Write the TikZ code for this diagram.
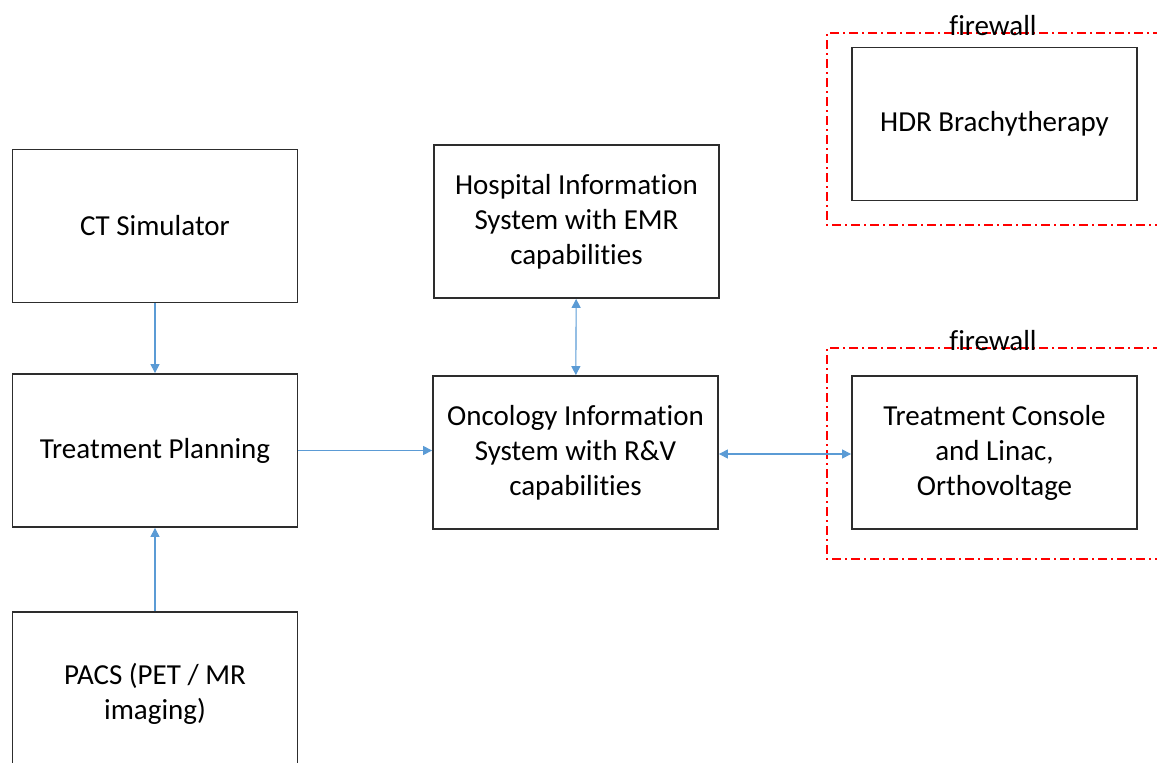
\documentclass[tikz,border=0pt]{standalone}
\usepackage{fontspec}
\setmainfont{Carlito}[Ligatures={NoCommon,NoContextual}]
\usepackage{tikz}
\usepackage{xcolor}
\usetikzlibrary{positioning,calc}
\usetikzlibrary{arrows.meta}
\definecolor{link}{RGB}{91, 155, 213}
\definecolor{fw}{RGB}{255, 0, 0}
\definecolor{edge}{RGB}{45, 45, 45}

\tikzset{
  sysbox/.style={draw=edge, line width=1.8pt, minimum width=285pt, minimum height=153pt,
    align=center, font=\fontsize{29}{35}\selectfont, inner sep=0pt},
  flow/.style={draw=link, line width=1.1pt, -{Triangle[length=9pt,width=9pt]}},
  flowboth/.style={flow, {Triangle[length=9pt,width=9pt]}-{Triangle[length=9pt,width=9pt]}},
  wall/.style={draw=fw, line width=1.3pt, dash pattern=on 9pt off 4pt on 2pt off 4pt},
  walltext/.style={font=\fontsize{29}{35}\selectfont, anchor=base, inner sep=0pt}
}

\begin{document}
\begin{tikzpicture}[x=1pt, y=-1pt]
  \useasboundingbox (0,0) rectangle (1157,763);
  \clip (0,0) rectangle (1157,763);

  % firewalls
  \draw[wall] (1200,33) -- (827,33) -- (827,225) -- (1200,225);
  \node[walltext] (fwtop) at (993,35) {f\kern0pt irewall};
  \draw[wall] (1200,348) -- (827,348) -- (827,559) -- (1200,559);
  \node[walltext] (fwbot) at (993,350) {f\kern0pt irewall};

  % boxes
  \node[sysbox] (ct) at (155,226) {CT Simulator};
  \node[sysbox] (plan) at (155,450.5) {Treatment Planning};
  \node[sysbox, minimum height=164pt] (pacs) at (155,694) {PACS (PET / MR\\imaging)};
  \node[sysbox] (his) at (576.5,221.5) {Hospital Information\\System with EMR\\capabilities};
  \node[sysbox] (ois) at (575.5,452.5) {Oncology Information\\System with R\&V\\capabilities};
  \node[sysbox] (hdr) at (994.5,124) {HDR Brachytherapy};
  \node[sysbox] (tc) at (994.5,452.5) {Treatment Console\\and Linac,\\Orthovoltage};

  % links
  \draw[flow] (ct) -- (plan);
  \draw[flow] (pacs) -- (plan);
  \draw[flow] (plan.east) -- (ois.west |- plan.east);
  \draw[flowboth] (his) -- (ois);
  \draw[flowboth] ($(ois.east)+(0,1.5)$) -- ($(tc.west)+(0,1.5)$);
\end{tikzpicture}
\end{document}
